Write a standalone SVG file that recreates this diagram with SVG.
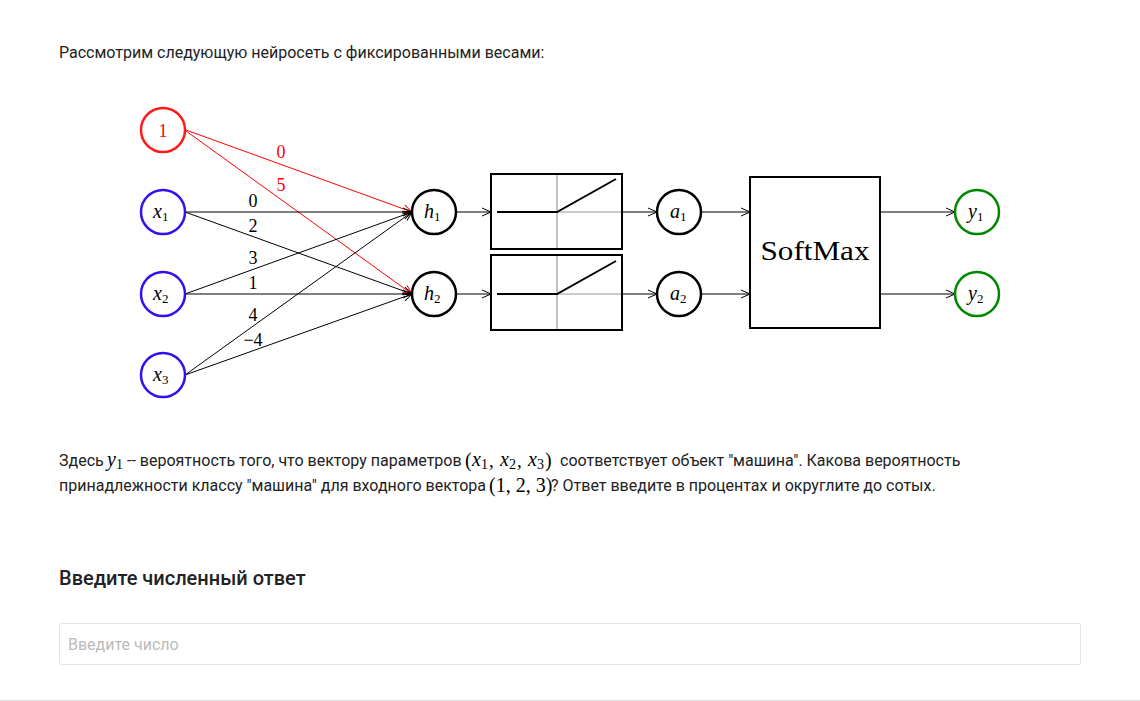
<svg xmlns="http://www.w3.org/2000/svg" width="1140" height="701" viewBox="0 0 1140 701">
<style>
.body{font-family:Roboto,"Liberation Sans",sans-serif;font-size:16px;fill:#222}
.m{font-family:"Liberation Serif","DejaVu Serif",serif;font-size:18px;fill:#000}
.mi{font-family:"Liberation Serif","DejaVu Serif",serif;font-style:italic;font-size:20px;fill:#000}
.sub{font-family:"Liberation Serif","DejaVu Serif",serif;font-size:13px;fill:#000}
.e{stroke:#000;stroke-width:1;fill:none}
.er{stroke:#ff0000;stroke-width:1;fill:none}
.nb{fill:#fff;stroke:#000;stroke-width:2.5}
.box{fill:#fff;stroke:#000;stroke-width:2}
</style>
<defs>
<marker id="ab" markerUnits="userSpaceOnUse" markerWidth="12" markerHeight="12" refX="0" refY="0" viewBox="-10 -6 12 12" orient="auto"><path d="M-9,-4 L0,0 L-9,4" fill="none" stroke="#000" stroke-width="1"/></marker>
<marker id="ar" markerUnits="userSpaceOnUse" markerWidth="12" markerHeight="12" refX="0" refY="0" viewBox="-10 -6 12 12" orient="auto"><path d="M-9,-4 L0,0 L-9,4" fill="none" stroke="#ff0000" stroke-width="1"/></marker>
</defs>
<rect width="1140" height="701" fill="#fff"/>
<text class="body" x="59" y="58">Рассмотрим следующую нейросеть с фиксированными весами:</text>

<g id="connectors">
<line class="er" x1="186" y1="130" x2="412" y2="212" marker-end="url(#ar)"/>
<line class="er" x1="186" y1="131" x2="412" y2="294" marker-end="url(#ar)"/>
<line class="e" x1="185" y1="212" x2="412" y2="212" marker-end="url(#ab)"/>
<line class="e" x1="185" y1="212" x2="412" y2="294" marker-end="url(#ab)"/>
<line class="e" x1="185" y1="294" x2="412" y2="212" marker-end="url(#ab)"/>
<line class="e" x1="185" y1="294" x2="412" y2="294" marker-end="url(#ab)"/>
<line class="e" x1="185" y1="375" x2="412" y2="212" marker-end="url(#ab)"/>
<line class="e" x1="185" y1="375" x2="412" y2="294" marker-end="url(#ab)"/>
<line class="e" x1="456" y1="212" x2="491" y2="212" marker-end="url(#ab)"/>
<line class="e" x1="456" y1="294" x2="491" y2="294" marker-end="url(#ab)"/>
<line class="e" x1="622" y1="212" x2="657" y2="212" marker-end="url(#ab)"/>
<line class="e" x1="622" y1="294" x2="657" y2="294" marker-end="url(#ab)"/>
<line class="e" x1="701" y1="212" x2="750" y2="212" marker-end="url(#ab)"/>
<line class="e" x1="701" y1="294" x2="750" y2="294" marker-end="url(#ab)"/>
<line class="e" x1="880" y1="212" x2="955" y2="212" marker-end="url(#ab)"/>
<line class="e" x1="880" y1="294" x2="955" y2="294" marker-end="url(#ab)"/>
<text class="m" x="281" y="158" style="fill:#ff0000" text-anchor="middle">0</text>
<text class="m" x="281" y="191" style="fill:#ff0000" text-anchor="middle">5</text>
<text class="m" x="253" y="207" text-anchor="middle">0</text>
<text class="m" x="253" y="232" text-anchor="middle">2</text>
<text class="m" x="253" y="264" text-anchor="middle">3</text>
<text class="m" x="253" y="289" text-anchor="middle">1</text>
<text class="m" x="253" y="321" text-anchor="middle">4</text>
<text class="m" x="253" y="346" text-anchor="middle">−4</text>
</g>

<g id="n-bias"><circle cx="163" cy="130" r="22" fill="#fff" stroke="#ff1a1a" stroke-width="2.5"/><text class="m" x="163" y="137" text-anchor="middle" style="fill:#ff0000">1</text></g>
<g id="n-x1"><circle cx="163" cy="212" r="22" fill="#fff" stroke="#3311ee" stroke-width="2.5"/><text class="mi" x="153" y="218">x</text><text class="sub" x="162" y="221">1</text></g>
<g id="n-x2"><circle cx="163" cy="294" r="22" fill="#fff" stroke="#3311ee" stroke-width="2.5"/><text class="mi" x="153" y="300">x</text><text class="sub" x="162" y="303">2</text></g>
<g id="n-x3"><circle cx="163" cy="375" r="22" fill="#fff" stroke="#3311ee" stroke-width="2.5"/><text class="mi" x="153" y="381">x</text><text class="sub" x="162" y="384">3</text></g>

<g id="n-h1"><circle class="nb" cx="434" cy="212" r="22"/><text class="mi" x="424" y="218">h</text><text class="sub" x="434" y="221">1</text></g>
<g id="n-h2"><circle class="nb" cx="434" cy="294" r="22"/><text class="mi" x="424" y="300">h</text><text class="sub" x="434" y="303">2</text></g>

<g id="relu1"><rect class="box" x="491" y="174" width="131" height="75"/><line x1="557" y1="175" x2="557" y2="248" stroke="#999" stroke-width="1.2"/><line x1="557" y1="212" x2="621" y2="212" stroke="#999" stroke-width="1.2"/><polyline points="497,212 557,212 616,179" fill="none" stroke="#000" stroke-width="2"/></g>
<g id="relu2"><rect class="box" x="491" y="255" width="131" height="75"/><line x1="557" y1="256" x2="557" y2="329" stroke="#999" stroke-width="1.2"/><line x1="557" y1="294" x2="621" y2="294" stroke="#999" stroke-width="1.2"/><polyline points="497,294 557,294 616,261" fill="none" stroke="#000" stroke-width="2"/></g>

<g id="n-a1"><circle class="nb" cx="679" cy="212" r="22"/><text class="mi" x="670" y="218">a</text><text class="sub" x="680" y="221">1</text></g>
<g id="n-a2"><circle class="nb" cx="679" cy="294" r="22"/><text class="mi" x="670" y="300">a</text><text class="sub" x="680" y="303">2</text></g>

<g id="softmax"><rect class="box" x="750" y="177" width="130" height="151"/><text x="815" y="260" text-anchor="middle" font-family="Liberation Serif, DejaVu Serif, serif" font-size="28" textLength="109" lengthAdjust="spacingAndGlyphs" fill="#000">SoftMax</text></g>

<g id="n-y1"><circle cx="977" cy="212" r="22" fill="#fff" stroke="#008800" stroke-width="2.5"/><text class="mi" x="968" y="218">y</text><text class="sub" x="977" y="221">1</text></g>
<g id="n-y2"><circle cx="977" cy="294" r="22" fill="#fff" stroke="#008800" stroke-width="2.5"/><text class="mi" x="968" y="300">y</text><text class="sub" x="977" y="303">2</text></g>

<g id="paragraph">
<text class="body" x="59" y="466">Здесь</text>
<text class="mi" x="107" y="466">y</text><text class="sub" x="116" y="469" style="font-size:14px">1</text>
<text class="body" x="127" y="466">-- вероятность того, что вектору параметров</text>
<text class="m" x="465" y="467" style="font-size:20px">(</text>
<text class="mi" x="472" y="466">x</text><text class="sub" x="481" y="469" style="font-size:14px">1</text><text class="m" x="489" y="467" style="font-size:19px">,</text>
<text class="mi" x="500" y="466">x</text><text class="sub" x="509" y="469" style="font-size:14px">2</text><text class="m" x="517" y="467" style="font-size:19px">,</text>
<text class="mi" x="528" y="466">x</text><text class="sub" x="537" y="469" style="font-size:14px">3</text>
<text class="m" x="545" y="467" style="font-size:20px">)</text>
<text class="body" x="560" y="466">соответствует объект "машина". Какова вероятность</text>
<text class="body" x="59" y="491">принадлежности классу "машина" для входного вектора</text>
<text class="m" x="489" y="492" style="font-size:20px">(1, 2, 3)</text>
<text class="body" x="551" y="491">? Ответ введите в процентах и округлите до сотых.</text>
</g>

<text x="59" y="585" font-family="Roboto, Liberation Sans, sans-serif" font-size="20" font-weight="500" fill="#222">Введите численный ответ</text>
<g id="input"><rect x="59.5" y="623.5" width="1021" height="41" rx="2" fill="#fff" stroke="#e2e2e2" stroke-width="1"/><text x="68" y="650" font-family="Roboto, Liberation Sans, sans-serif" font-size="16" fill="#bbb">Введите число</text></g>
<line x1="0" y1="700.5" x2="1140" y2="700.5" stroke="#ddd" stroke-width="1"/>
</svg>
